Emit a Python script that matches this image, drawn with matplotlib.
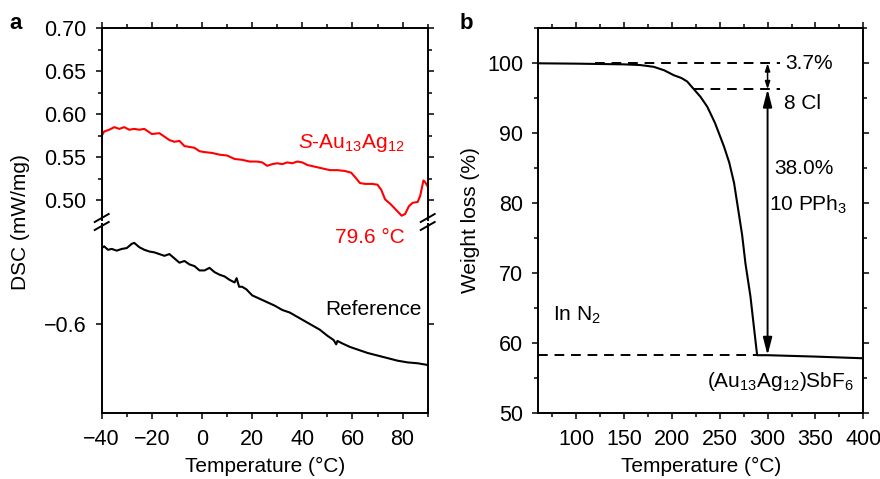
import matplotlib
matplotlib.use("Agg")
import matplotlib.pyplot as plt
from matplotlib.ticker import MultipleLocator, FixedLocator
from matplotlib.lines import Line2D

plt.rcParams['font.family'] = ['Liberation Sans', 'DejaVu Sans']
plt.rcParams['mathtext.fontset'] = 'custom'
plt.rcParams['mathtext.rm'] = 'Liberation Sans'
plt.rcParams['mathtext.it'] = 'Liberation Sans:italic'
plt.rcParams['font.size'] = 15
plt.rcParams['xtick.labelsize'] = 15.5
plt.rcParams['ytick.labelsize'] = 15.5

# DSC of S-Au13Ag12 (upper part of broken axis)
dsc_t = [-40, -39, -37, -35, -33, -31, -29, -27, -25, -23, -21.5, -20, -17, -15, -13, -11,
         -9, -7, -5, -3, -1, 1, 4, 7, 10, 13, 16, 19, 22, 24, 26, 28, 30, 32, 34, 36, 38,
         40, 42, 45, 48, 51, 54, 57, 59.5, 61, 63, 65, 68, 70, 71.5, 73, 75, 77, 79.6,
         81, 82.5, 84, 86, 87, 88.3, 89, 90]
dsc_sample = [0.575, 0.580, 0.582, 0.585, 0.583, 0.585, 0.582, 0.583, 0.582, 0.583, 0.580,
              0.577, 0.578, 0.574, 0.570, 0.568, 0.569, 0.563, 0.562, 0.561, 0.557, 0.556,
              0.555, 0.553, 0.552, 0.548, 0.547, 0.545, 0.545, 0.544, 0.540, 0.542, 0.543,
              0.542, 0.544, 0.543, 0.545, 0.544, 0.541, 0.539, 0.537, 0.535, 0.535, 0.534,
              0.532, 0.527, 0.520, 0.519, 0.519, 0.518, 0.512, 0.501, 0.496, 0.490, 0.482,
              0.484, 0.493, 0.497, 0.498, 0.505, 0.523, 0.521, 0.516]

# DSC of the reference pan (lower part)
ref_t = [-40, -39, -37.5, -36, -34, -32, -30, -28, -27, -25, -23, -21, -19, -17, -15, -13,
         -11, -9, -7, -5, -3, -1, 1, 3, 5, 7, 9, 11, 13, 13.8, 14.8, 16, 17.7, 20, 23, 26,
         29, 32, 35, 38, 41, 44, 47, 50, 52.5, 53.5, 54, 56, 59, 62, 66, 70, 74, 78, 82,
         86, 90]
ref_dsc = [-0.512, -0.510, -0.514, -0.513, -0.515, -0.513, -0.512, -0.507, -0.506, -0.511,
           -0.514, -0.516, -0.517, -0.519, -0.521, -0.519, -0.524, -0.529, -0.527, -0.531,
           -0.533, -0.538, -0.538, -0.535, -0.540, -0.543, -0.545, -0.549, -0.552, -0.547,
           -0.557, -0.557, -0.560, -0.567, -0.571, -0.575, -0.579, -0.584, -0.587, -0.592,
           -0.597, -0.602, -0.607, -0.614, -0.619, -0.624, -0.620, -0.623, -0.627, -0.630,
           -0.634, -0.637, -0.640, -0.643, -0.645, -0.646, -0.648]

peak_t = 79.6

# TGA curve
tga_t = [60, 100, 150, 167, 181, 192, 202, 210, 216, 223, 230, 237, 245, 254.5, 260, 265,
         270, 273.4, 276.9, 282.1, 286, 289.1, 300, 350, 400]
tga_w = [100.0, 99.95, 99.85, 99.75, 99.5, 99.0, 98.3, 97.9, 97.4, 96.3, 95.2, 93.8, 91.5,
         88.1, 85.8, 82.9, 78.5, 75.5, 71.4, 66.7, 62.0, 58.3, 58.3, 58.1, 57.86]

w_start = 100.0
w_cl = 96.3
w_end = 58.3

fig = plt.figure(figsize=(8.8, 4.79), dpi=100)

W, H = 880.0, 479.0
def box(x0, y0, x1, y1):
    return [x0 / W, 1 - y1 / H, (x1 - x0) / W, (y1 - y0) / H]

ax_top = fig.add_axes(box(101.7, 28.3, 427.7, 220))
ax_bot = fig.add_axes(box(101.7, 224, 427.7, 413.3))
ax_b = fig.add_axes(box(538.3, 28.3, 863.3, 413.3))

for ax in (ax_top, ax_bot, ax_b):
    for s in ax.spines.values():
        s.set_linewidth(1.4)
    ax.tick_params(which='both', direction='out', width=1.1, top=True, right=True, pad=7)
    ax.tick_params(which='major', length=4)
    ax.tick_params(which='minor', length=3)

# panel a, upper part
ax_top.plot(dsc_t, dsc_sample, color='#ff0000', lw=1.5)
ax_top.set_xlim(-40, 90)
ax_top.set_ylim(0.477, 0.70)
ax_top.spines['bottom'].set_visible(False)
ax_top.tick_params(axis='x', which='both', bottom=False, labelbottom=False)
ax_top.xaxis.set_major_locator(MultipleLocator(20))
ax_top.xaxis.set_minor_locator(MultipleLocator(10))
ax_top.yaxis.set_major_locator(MultipleLocator(0.05))
ax_top.yaxis.set_minor_locator(MultipleLocator(0.025))
ax_top.yaxis.set_major_formatter(matplotlib.ticker.FormatStrFormatter('%.2f'))
ax_top.text(38.3, 0.566, r'$\mathit{S}$-Au$_{\mathregular{13}}$Ag$_{\mathregular{12}}$',
            color='#ff0000', ha='left', va='center')

# panel a, lower part
ax_bot.plot(ref_t, ref_dsc, color='black', lw=1.5)
ax_bot.set_xlim(-40, 90)
ax_bot.set_ylim(-0.7042, -0.484)
ax_bot.spines['top'].set_visible(False)
ax_bot.tick_params(axis='x', which='both', top=False)
ax_bot.xaxis.set_major_locator(MultipleLocator(20))
ax_bot.xaxis.set_minor_locator(MultipleLocator(10))
ax_bot.xaxis.set_major_formatter(matplotlib.ticker.FuncFormatter(
    lambda v, p: ('%d' % v).replace('-', '\u2212')))
ax_bot.yaxis.set_major_locator(FixedLocator([-0.6]))
ax_bot.yaxis.set_major_formatter(matplotlib.ticker.FuncFormatter(
    lambda v, p: ('%.1f' % v).replace('-', '\u2212')))
ax_bot.set_xlabel('Temperature (°C)', labelpad=5)
ax_bot.text(67, -0.4995, '%.1f °C' % peak_t, color='#ff0000', ha='center', va='center')
ax_bot.text(68.5, -0.584, 'Reference', color='black', ha='center', va='center')

# break marks on both spines of panel a
for xp in (101.7, 427.7):
    for dy in (-4, 4):
        x0, x1 = (xp - 7) / W, (xp + 7) / W
        yc = 222 + dy
        fig.add_artist(Line2D([x0, x1], [1 - (yc + 4) / H, 1 - (yc - 4) / H],
                              color='black', lw=1.4))

fig.text(20 / W, 1 - 222 / H, 'DSC (mW/mg)', rotation=90, ha='center', va='center')

# panel b
ax_b.plot(tga_t, tga_w, color='black', lw=1.5)
ax_b.set_xlim(60.5, 400)
ax_b.set_ylim(50, 105)
ax_b.xaxis.set_major_locator(MultipleLocator(50))
ax_b.xaxis.set_minor_locator(MultipleLocator(25))
ax_b.yaxis.set_major_locator(FixedLocator([50, 60, 70, 80, 90, 100]))
ax_b.yaxis.set_minor_locator(FixedLocator([55, 65, 75, 85, 95, 105]))
ax_b.set_xlabel('Temperature (°C)', labelpad=5)
fig.text(470 / W, 1 - 220 / H, 'Weight loss (%)', rotation=90, ha='center', va='center')

dash = (0, (5, 3.5))
ax_b.hlines(w_start, 120, 313, colors='black', linestyles=dash, lw=1.4)
ax_b.hlines(w_cl, 223, 313, colors='black', linestyles=dash, lw=1.4)
ax_b.hlines(w_end, 60.5, 289, colors='black', linestyles=dash, lw=1.4)

arrow_x = 300
ax_b.annotate('', xy=(arrow_x, w_cl), xytext=(arrow_x, w_start),
              arrowprops=dict(arrowstyle='<|-|>,head_length=0.3,head_width=0.1',
                              color='black', lw=1.1, shrinkA=0, shrinkB=0))
ax_b.annotate('', xy=(arrow_x, w_end), xytext=(arrow_x, w_cl),
              arrowprops=dict(arrowstyle='<|-|>,head_length=0.7,head_width=0.18',
                              color='black', lw=1.4, shrinkA=0, shrinkB=0))

ax_b.text(318, w_start, '%.1f%%' % (w_start - w_cl), ha='left', va='center')
ax_b.text(317, 94.3, '8 Cl', ha='left', va='center')
ax_b.text(306.5, 85.0, '%.1f%%' % (w_cl - w_end), ha='left', va='center')
ax_b.text(301.5, 79.8, r'10 PPh$_{\mathregular{3}}$', ha='left', va='center')
ax_b.text(76.3, 64.0, r'In N$_{\mathregular{2}}$', ha='left', va='center')
ax_b.text(313.5, 54.5, r'(Au$_{\mathregular{13}}$Ag$_{\mathregular{12}}$)SbF$_{\mathregular{6}}$',
          ha='center', va='center')

fig.text(9 / W, 1 - 29 / H, 'a', fontweight='bold', fontsize=16, va='baseline')
fig.text(460 / W, 1 - 29 / H, 'b', fontweight='bold', fontsize=16, va='baseline')

fig.savefig('out.png', dpi=100)
